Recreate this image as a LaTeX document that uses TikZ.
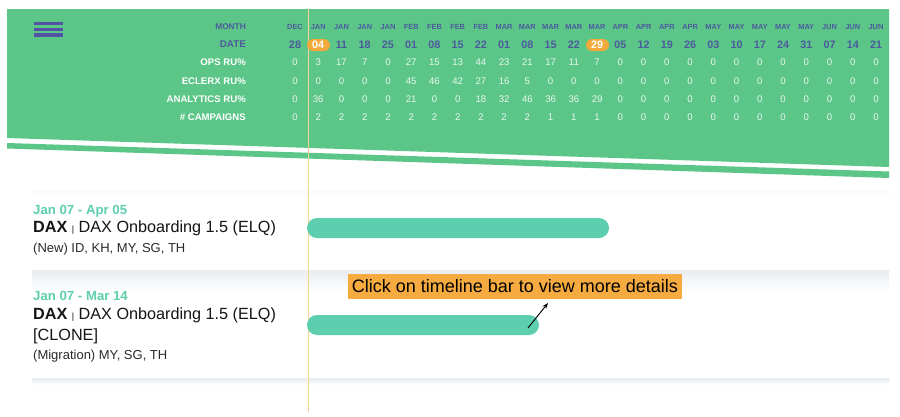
\documentclass[tikz,border=0pt]{standalone}
\usepackage{fontspec}
\setmainfont{Liberation Sans}
\usetikzlibrary{arrows.meta}
\definecolor{hdrgreen}{HTML}{5BC687}
\definecolor{hdrtext}{HTML}{4D5A9E}
\definecolor{burger}{HTML}{5253A5}
\definecolor{pillorange}{HTML}{F2A93B}
\definecolor{barteal}{HTML}{5DCFAE}
\definecolor{tipbg}{HTML}{F5AB3F}
\definecolor{vlinec}{HTML}{F6D594}
\definecolor{valc}{HTML}{E8F7EE}
\definecolor{shadowc}{HTML}{E9EDF0}
\definecolor{titlec}{HTML}{151515}
\definecolor{subc}{HTML}{2A2A2A}
\begin{document}
\begin{tikzpicture}[x=1pt,y=-1pt,
  montxt/.style={font=\bfseries\fontsize{7.4}{8}\selectfont, text=hdrtext, anchor=base, inner sep=0},
  dattxt/.style={font=\bfseries\fontsize{10.8}{12}\selectfont, anchor=base, inner sep=0},
  valtxt/.style={font=\fontsize{9.6}{11}\selectfont, text=valc, anchor=base, inner sep=0},
  rowlbl/.style={font=\bfseries\fontsize{9.6}{11}\selectfont, text=white, anchor=base east, inner sep=0},
  hdrlbl/.style={font=\bfseries\fontsize{8.3}{10}\selectfont, text=hdrtext, anchor=base east, inner sep=0},
  datlbl/.style={font=\bfseries\fontsize{9.8}{11}\selectfont, text=hdrtext, anchor=base east, inner sep=0},
  pillbox/.style={fill=pillorange, rounded corners=6pt, minimum width=23pt, minimum height=12pt, inner sep=0},
  daterange/.style={font=\bfseries\fontsize{13.2}{15}\selectfont, text=barteal, anchor=base west, inner sep=0},
  cardtitle/.style={font=\fontsize{16.2}{20}\selectfont, text=titlec, anchor=base west, inner sep=0},
  cardsub/.style={font=\fontsize{13}{15}\selectfont, text=subc, anchor=base west, inner sep=0},
  tlbar/.style={fill=barteal, rounded corners=10pt, minimum height=20pt, inner sep=0},
  tipbox/.style={fill=tipbg, text=black, font=\fontsize{18}{20}\selectfont, minimum width=334pt, minimum height=25pt, inner sep=0},
  todayline/.style={draw=vlinec, line width=1pt},
  pointerarrow/.style={draw=black, line width=0.9pt, -{Stealth[length=6pt,width=4.5pt]}}
]
\useasboundingbox (0,0) rectangle (900,416);
\fill[white] (0,0) rectangle (900,416);

% header band
\fill[hdrgreen] (7,9) -- (889,9) -- (889,167) -- (7,138) -- cycle;
\fill[hdrgreen] (7,143) -- (889,171.5) -- (889,178) -- (7,148.5) -- cycle;

% hamburger
\fill[burger] (34,22) rectangle (63,25.3);
\fill[burger] (34,27.7) rectangle (63,31);
\fill[burger] (34,33.4) rectangle (63,37);

% cards
\shade[top color=shadowc!25, bottom color=white] (32,191) rectangle (889,199);
\shade[top color=shadowc, bottom color=white] (32,270) rectangle (889,292);
\draw[shadowc!90!gray, line width=0.8pt] (32,378) -- (889,378);
\shade[top color=shadowc, bottom color=white] (32,378.4) rectangle (889,385);

% today line
\draw[todayline] (308,9) -- (308,412);

% pills
\node[pillbox] (pillA) at (318.5,45) {};
\node[pillbox] (pillB) at (597.5,45) {};

% row labels
\node[hdrlbl] (lmonth) at (246,29.3) {MONTH};
\node[datlbl] (ldate) at (246,47.3) {DATE};
\node[rowlbl] (lops) at (246,65.7) {OPS RU\%};
\node[rowlbl] (lecl) at (246,84) {ECLERX RU\%};
\node[rowlbl] (lana) at (246,102.3) {ANALYTICS RU\%};
\node[rowlbl] (lcmp) at (246,120.4) {\# CAMPAIGNS};

% months
\foreach \m [count=\i from 0] in {DEC,JAN,JAN,JAN,JAN,FEB,FEB,FEB,FEB,MAR,MAR,MAR,MAR,MAR,APR,APR,APR,APR,MAY,MAY,MAY,MAY,MAY,JUN,JUN,JUN}{
  \pgfmathsetmacro\cx{295+23.24*\i}
  \node[montxt] (mon\i) at (\cx,29.3) {\m};
}
% dates
\foreach \d [count=\i from 0] in {28,04,11,18,25,01,08,15,22,01,08,15,22,29,05,12,19,26,03,10,17,24,31,07,14,21}{
  \pgfmathsetmacro\cx{295+23.24*\i}
  \ifnum\i=1 \def\dc{white}\else\ifnum\i=13 \def\dc{white}\else\def\dc{hdrtext}\fi\fi
  \node[dattxt, text=\dc] (dat\i) at (\cx,48.6) {\d};
}
% values
\foreach \v [count=\i from 0] in {0,3,17,7,0,27,15,13,44,23,21,17,11,7,0,0,0,0,0,0,0,0,0,0,0,0}{
  \pgfmathsetmacro\cx{295+23.24*\i}
  \node[valtxt] (ops\i) at (\cx,65.7) {\v};
}
\foreach \v [count=\i from 0] in {0,0,0,0,0,45,46,42,27,16,5,0,0,0,0,0,0,0,0,0,0,0,0,0,0,0}{
  \pgfmathsetmacro\cx{295+23.24*\i}
  \node[valtxt] (ecl\i) at (\cx,84) {\v};
}
\foreach \v [count=\i from 0] in {0,36,0,0,0,21,0,0,18,32,46,36,36,29,0,0,0,0,0,0,0,0,0,0,0,0}{
  \pgfmathsetmacro\cx{295+23.24*\i}
  \node[valtxt] (ana\i) at (\cx,102.3) {\v};
}
\foreach \v [count=\i from 0] in {0,2,2,2,2,2,2,2,2,2,2,1,1,1,0,0,0,0,0,0,0,0,0,0,0,0}{
  \pgfmathsetmacro\cx{295+23.24*\i}
  \node[valtxt] (cmp\i) at (\cx,120.4) {\v};
}

% campaign rows
\node[daterange] (rng1) at (33,214) {Jan 07 - Apr 05};
\node[cardtitle] (ttl1) at (33,232.3) {\textbf{DAX} {\fontsize{9}{10}\selectfont|} DAX Onboarding 1.5 (ELQ)};
\node[cardsub] (sub1) at (33,252.3) {(New) ID, KH, MY, SG, TH};

\node[daterange] (rng2) at (33,300) {Jan 07 - Mar 14};
\node[cardtitle] (ttl2) at (33,319.3) {\textbf{DAX} {\fontsize{9}{10}\selectfont|} DAX Onboarding 1.5 (ELQ)};
\node[cardtitle] (clone2) at (33,340) {[CLONE]};
\node[cardsub] (sub2) at (33,359.3) {(Migration) MY, SG, TH};

% timeline bars
\node[tlbar, minimum width=302pt] (bar1) at (458,228) {};
\node[tlbar, minimum width=232pt] (bar2) at (423,325) {};

% tip
\node[tipbox] (tip) at (515,286.5) {Click on timeline bar to view more details};
\coordinate (arrS) at (528,328);
\coordinate (arrE) at (548,303);
\draw[pointerarrow] (arrS) -- (arrE);
\end{tikzpicture}
\end{document}
